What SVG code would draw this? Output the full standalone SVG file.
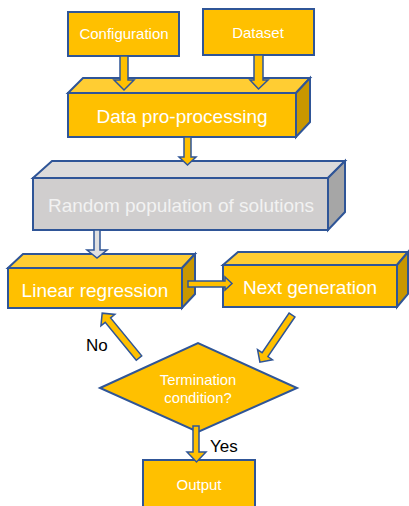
<svg xmlns="http://www.w3.org/2000/svg" width="409" height="506" viewBox="0 0 409 506">
<style>
.f{fill:#ffc000;stroke:#2f5597;stroke-width:2;stroke-linejoin:miter}
.t{fill:#ffcd33;stroke:#2f5597;stroke-width:2}
.s{fill:#c99700;stroke:#2f5597;stroke-width:2}
.gf{fill:#d0cece;stroke:#2f5597;stroke-width:2}
.gt{fill:#dcdbdb;stroke:#2f5597;stroke-width:2}
.gs{fill:#a6a6a6;stroke:#2f5597;stroke-width:2}
.a{fill:#ffc000;stroke:#2f5597;stroke-width:1.5}
.ag{fill:#e0e0e0;stroke:#2f5597;stroke-width:1.5}
text{font-family:"Liberation Sans",Arial,sans-serif;text-anchor:middle}
.w{fill:#ffffff}
.k{fill:#000000;text-anchor:start}
</style>
<g id="configuration">
<rect class="f" x="68" y="12" width="111" height="44"/>
<text class="w" x="124" y="39" font-size="15">Configuration</text>
</g>
<g id="dataset">
<rect class="f" x="203" y="9" width="111" height="46"/>
<text class="w" x="258" y="38" font-size="15">Dataset</text>
</g>
<g id="data-preprocessing">
<polygon class="t" points="68,93 83,78 310,78 296,93"/>
<polygon class="s" points="296,93 310,78 310,122 296,137"/>
<rect class="f" x="68" y="93" width="228" height="44"/>
<text class="w" x="182" y="123" font-size="19">Data pro-processing</text>
</g>
<g id="random-population">
<polygon class="gt" points="33,178 52,161 345,161 328,178"/>
<polygon class="gs" points="328,178 345,161 345,212 328,230"/>
<rect class="gf" x="33" y="178" width="295" height="52"/>
<text x="181" y="212" font-size="19" fill="#f2f2f2">Random population of solutions</text>
</g>
<g id="linear-regression">
<polygon class="t" points="8,268 23,254 195,254 182,268"/>
<polygon class="s" points="182,268 195,254 195,294 182,308"/>
<rect class="f" x="8" y="268" width="174" height="40"/>
<text class="w" x="95" y="297" font-size="19">Linear regression</text>
</g>
<g id="next-generation">
<polygon class="t" points="223,265 238,252 408,252 397,265"/>
<polygon class="s" points="397,265 408,252 408,294 397,307"/>
<rect class="f" x="223" y="265" width="174" height="42"/>
<text class="w" x="310" y="294" font-size="19">Next generation</text>
</g>
<g id="termination">
<polygon class="f" points="100,388 198,343 297,388 198,432"/>
<text class="w" x="198" y="385" font-size="14.8">Termination</text>
<text class="w" x="198" y="403" font-size="14.8">condition?</text>
</g>
<g id="output">
<rect class="f" x="143" y="460" width="112" height="50"/>
<text class="w" x="199" y="490" font-size="15">Output</text>
</g>
<g id="connectors">
<polygon class="a" points="120,56 128,56 128,80 134,80 124,90 114,80 120,80"/>
<polygon class="a" points="254,55 263,55 263,80 268,80 258.5,89 250,80 254,80"/>
<polygon class="a" points="184,137 191,137 191,157 196,157 187.5,165 179,157 184,157"/>
<polygon class="ag" points="94,230 100,230 100,250 107,250 97,258 87,250 94,250"/>
<polygon class="a" points="188,281 225,281 225,277 232,283.5 225,290 225,287 188,287"/>
<polygon class="a" transform="translate(139,358) rotate(-129.4)" points="0,-3.5 49,-3.5 49,-9 58,0 49,9 49,3.5 0,3.5"/>
<polygon class="a" transform="translate(292,315) rotate(124.25)" points="0,-3.5 48,-3.5 48,-9 57,0 48,9 48,3.5 0,3.5"/>
<polygon class="a" points="193,426 199,426 199,452 206,452 196.5,462 187,452 193,452"/>
<text class="k" x="86" y="351" font-size="17">No</text>
<text class="k" x="210" y="452" font-size="17">Yes</text>
</g>
</svg>
